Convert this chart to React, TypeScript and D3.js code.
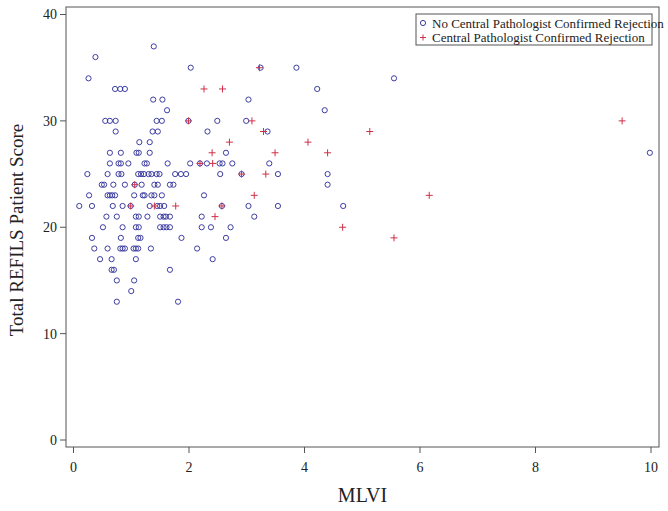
import React from "react";
import * as d3 from "d3";

// MLVI (x) vs Total REFILS Patient Score (y)
const noRejection: [number, number][] = [
  [1.39, 37],
  [0.38, 36],
  [2.03, 35], [3.24, 35], [3.86, 35],
  [0.26, 34], [5.55, 34],
  [0.72, 33], [0.81, 33], [0.89, 33], [4.22, 33],
  [1.38, 32], [1.54, 32], [3.03, 32],
  [1.62, 31], [4.35, 31],
  [0.55, 30], [0.63, 30], [0.73, 30], [1.44, 30], [1.53, 30], [1.99, 30], [2.49, 30], [2.99, 30],
  [0.73, 29], [1.37, 29], [1.46, 29], [2.32, 29], [3.36, 29],
  [1.14, 28], [1.32, 28],
  [0.63, 27], [0.82, 27], [1.09, 27], [1.13, 27], [1.32, 27], [2.64, 27], [9.98, 27],
  [0.63, 26], [0.78, 26], [0.82, 26], [0.95, 26], [1.23, 26], [1.27, 26], [1.63, 26], [2.02, 26],
  [2.19, 26], [2.31, 26], [2.53, 26], [2.58, 26], [2.75, 26], [3.39, 26],
  [0.24, 25], [0.59, 25], [0.78, 25], [0.83, 25], [1.12, 25], [1.17, 25], [1.22, 25], [1.3, 25],
  [1.35, 25], [1.44, 25], [1.49, 25], [1.76, 25], [1.86, 25], [1.95, 25], [2.54, 25], [2.91, 25],
  [3.54, 25], [4.4, 25],
  [0.49, 24], [0.53, 24], [0.69, 24], [0.89, 24], [1.06, 24], [1.18, 24], [1.4, 24], [1.46, 24],
  [1.67, 24], [1.73, 24], [4.4, 24],
  [0.27, 23], [0.59, 23], [0.63, 23], [0.67, 23], [0.72, 23], [1.05, 23], [1.2, 23], [1.23, 23],
  [1.35, 23], [1.4, 23], [1.53, 23], [2.26, 23],
  [0.1, 22], [0.32, 22], [0.68, 22], [0.85, 22], [0.99, 22], [1.32, 22], [1.45, 22], [1.5, 22],
  [1.57, 22], [2.57, 22], [3.03, 22], [3.54, 22], [4.67, 22],
  [0.57, 21], [0.75, 21], [1.08, 21], [1.13, 21], [1.28, 21], [1.5, 21], [1.56, 21], [1.6, 21],
  [1.67, 21], [2.22, 21], [3.13, 21],
  [0.51, 20], [0.85, 20], [1.08, 20], [1.13, 20], [1.5, 20], [1.56, 20], [1.61, 20], [1.67, 20],
  [2.22, 20], [2.38, 20], [2.72, 20],
  [0.32, 19], [0.82, 19], [1.12, 19], [1.16, 19], [1.87, 19], [2.64, 19],
  [0.36, 18], [0.59, 18], [0.81, 18], [0.85, 18], [0.89, 18], [1.04, 18], [1.08, 18], [1.12, 18],
  [1.34, 18], [2.14, 18],
  [0.46, 17], [0.66, 17], [1.08, 17], [2.41, 17],
  [0.66, 16], [0.7, 16], [1.67, 16],
  [0.75, 15], [1.05, 15],
  [1.0, 14],
  [0.75, 13], [1.81, 13],
];

const rejection: [number, number][] = [
  [3.22, 35],
  [2.26, 33], [2.58, 33],
  [1.99, 30], [3.09, 30], [9.5, 30],
  [3.29, 29], [5.13, 29],
  [2.7, 28], [4.06, 28],
  [2.4, 27], [3.49, 27], [4.4, 27],
  [2.19, 26], [2.41, 26],
  [2.91, 25], [3.33, 25],
  [1.06, 24],
  [3.13, 23], [6.16, 23],
  [0.99, 22], [1.4, 22], [1.77, 22], [2.57, 22],
  [2.45, 21],
  [4.66, 20],
  [5.55, 19],
];

const xTicks = [0, 2, 4, 6, 8, 10];
const yTicks = [0, 10, 20, 30, 40];
const legendLabels = [
  "No Central Pathologist Confirmed Rejection",
  "Central Pathologist Confirmed Rejection",
];
const xTitle = "MLVI";
const yTitle = "Total REFILS Patient Score";

const W = 668;
const H = 511;
const frame = { left: 66, right: 659, top: 7, bottom: 447 };
const BLUE = "#3d3da3";
const RED = "#cf3048";
const AXIS = "#555";
const FONT = "'Liberation Serif', 'Times New Roman', serif";

function Plus({ cx, cy, s = 3.5 }: { cx: number; cy: number; s?: number }) {
  return (
    <g stroke={RED} strokeWidth={1}>
      <line x1={cx - s} x2={cx + s} y1={cy} y2={cy} />
      <line x1={cx} x2={cx} y1={cy - s} y2={cy + s} />
    </g>
  );
}

export default function App() {
  const x = d3.scaleLinear().domain([0, 10]).range([73.5, 651]);
  const y = d3.scaleLinear().domain([0, 40]).range([440, 14.5]);

  return (
    <div style={{ position: "absolute", left: 0, top: 0 }}>
      <svg width={W} height={H} style={{ display: "block", background: "#fff" }} fontFamily={FONT}>
        <rect
          x={frame.left}
          y={frame.top}
          width={frame.right - frame.left}
          height={frame.bottom - frame.top}
          fill="none"
          stroke={AXIS}
          strokeWidth={1}
        />
        {yTicks.map((t) => (
          <g key={"y" + t}>
            <line x1={frame.left - 6} x2={frame.left} y1={y(t)} y2={y(t)} stroke={AXIS} />
            <text x={frame.left - 9} y={y(t)} dy="0.35em" textAnchor="end" fontSize={14} fill="#222">
              {t}
            </text>
          </g>
        ))}
        {xTicks.map((t) => (
          <g key={"x" + t}>
            <line x1={x(t)} x2={x(t)} y1={frame.bottom} y2={frame.bottom + 6} stroke={AXIS} />
            <text x={x(t)} y={472} textAnchor="middle" fontSize={14} fill="#222">
              {t}
            </text>
          </g>
        ))}
        <text x={(frame.left + frame.right) / 2} y={502} textAnchor="middle" fontSize={20} fill="#222">
          {xTitle}
        </text>
        <text
          transform={`translate(23, ${(frame.top + frame.bottom) / 2 + 3}) rotate(-90)`}
          textAnchor="middle"
          fontSize={19}
          fill="#222"
        >
          {yTitle}
        </text>

        {noRejection.map(([a, b], i) => (
          <circle key={"c" + i} cx={x(a)} cy={y(b)} r={2.6} fill="none" stroke={BLUE} strokeWidth={1} />
        ))}
        {rejection.map(([a, b], i) => (
          <Plus key={"p" + i} cx={x(a)} cy={y(b)} />
        ))}

        <rect x={416} y={14} width={236} height={31} fill="#fff" stroke={AXIS} strokeWidth={1} />
        <circle cx={423} cy={23} r={2.6} fill="none" stroke={BLUE} strokeWidth={1} />
        <text x={432} y={23} dy="0.35em" fontSize={13} fill="#222">
          {legendLabels[0]}
        </text>
        <Plus cx={423} cy={37.5} s={3} />
        <text x={432} y={37.5} dy="0.35em" fontSize={13} fill="#222">
          {legendLabels[1]}
        </text>
      </svg>
    </div>
  );
}
